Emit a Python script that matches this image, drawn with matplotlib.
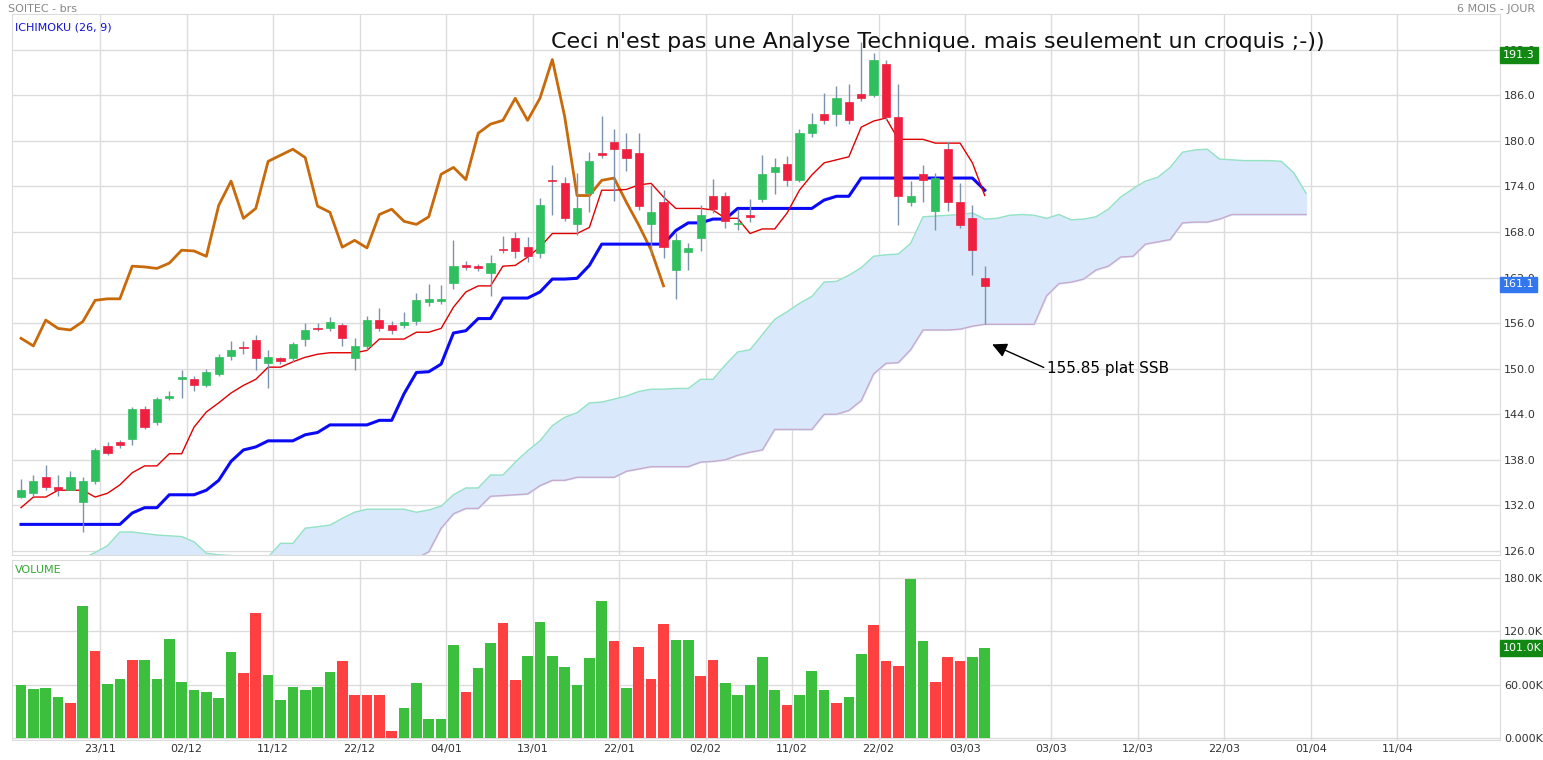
import matplotlib
matplotlib.use("Agg")
import matplotlib.pyplot as plt
from matplotlib.patches import Rectangle

# ---- data (index = trading day) ----
opens = [133.1, 133.6, 135.7, 134.4, 134.0, 132.4, 135.2, 139.8, 140.3, 140.7,
         144.7, 143.0, 146.1, 148.6, 148.6, 147.8, 149.3, 151.7, 152.9, 153.8,
         150.8, 151.4, 151.4, 153.9, 155.3, 155.3, 155.7, 151.4, 153.0, 156.4,
         155.8, 155.7, 156.3, 158.8, 158.9, 161.3, 163.6, 163.5, 162.6, 165.8,
         167.2, 166.0, 165.2, 174.9, 174.5, 169.0, 173.1, 178.4, 179.8, 178.9,
         178.4, 169.0, 171.9, 163.0, 165.3, 167.2, 172.7, 172.7, 169.0, 170.3,
         172.4, 175.9, 176.9, 174.9, 181.0, 183.5, 183.5, 185.1, 186.2, 186.0,
         190.1, 183.1, 172.0, 175.6, 170.7, 178.9, 171.9, 169.8, 161.9]
closes = [134.0, 135.2, 134.4, 134.0, 135.8, 135.2, 139.3, 138.9, 140.0, 144.7,
          142.3, 146.0, 146.4, 148.9, 147.8, 149.6, 151.5, 152.4, 152.7, 151.4,
          151.6, 151.0, 153.2, 155.1, 155.2, 156.2, 154.0, 153.0, 156.4, 155.3,
          155.1, 156.2, 159.0, 159.2, 159.2, 163.5, 163.4, 163.2, 163.9, 165.6,
          165.5, 164.8, 171.5, 174.7, 169.8, 171.1, 177.3, 178.1, 178.9, 177.8,
          171.4, 170.6, 166.0, 166.9, 165.9, 170.3, 171.0, 169.4, 169.0, 170.0,
          175.6, 176.5, 174.9, 181.0, 182.2, 182.7, 185.6, 182.7, 185.6, 190.7,
          183.2, 172.8, 172.8, 174.8, 175.1, 171.9, 168.9, 165.6, 160.9]
highs = [135.5, 136.0, 137.3, 136.0, 136.5, 135.8, 139.6, 140.3, 140.6, 145.0,
         145.1, 146.3, 147.1, 149.8, 149.0, 150.0, 152.0, 153.7, 153.6, 154.5,
         152.4, 151.6, 153.5, 156.0, 156.0, 156.8, 156.0, 154.0, 157.0, 158.0,
         156.3, 157.4, 160.0, 161.1, 161.0, 167.0, 164.2, 163.8, 165.0, 167.5,
         168.0, 167.4, 172.5, 176.8, 175.2, 175.8, 178.5, 183.3, 181.5, 181.0,
         181.0, 174.2, 173.5, 167.8, 166.5, 171.5, 175.0, 173.2, 171.0, 172.3,
         178.2, 177.8, 178.0, 181.6, 183.6, 186.3, 187.2, 187.5, 193.0, 191.5,
         190.6, 187.5, 174.7, 176.8, 175.8, 179.9, 174.5, 171.5, 163.5]
lows = [133.0, 133.3, 134.0, 133.2, 134.0, 128.5, 134.8, 138.6, 139.5, 140.0,
        142.0, 142.6, 145.9, 146.1, 147.1, 147.6, 149.0, 151.2, 152.0, 149.8,
        147.4, 150.6, 150.9, 153.0, 154.9, 154.9, 153.0, 149.8, 152.5, 155.0,
        154.6, 155.4, 155.8, 158.3, 158.5, 160.5, 163.0, 162.8, 159.6, 165.2,
        164.6, 164.0, 164.6, 170.2, 169.4, 167.6, 170.6, 177.7, 172.1, 176.0,
        170.9, 165.0, 164.6, 159.2, 163.0, 165.5, 170.5, 168.5, 168.2, 169.3,
        171.9, 173.0, 174.1, 174.6, 180.5, 182.2, 182.0, 182.2, 185.2, 185.8,
        182.8, 168.9, 171.4, 172.0, 168.2, 170.8, 168.5, 162.4, 155.85]

tenkan = [131.7, 133.1, 133.1, 134.0, 134.0, 134.0, 133.1, 133.6, 134.7, 136.3,
          137.2, 137.2, 138.8, 138.8, 142.3, 144.3, 145.5, 146.8, 147.8, 148.6,
          150.2, 150.2, 150.9, 151.5, 151.9, 152.1, 152.1, 152.1, 152.4, 153.9,
          153.9, 153.9, 154.8, 154.8, 155.3, 158.1, 160.1, 160.9, 160.9, 163.5,
          163.6, 164.7, 166.0, 167.8, 167.8, 167.8, 168.6, 173.5, 173.5, 173.6,
          174.2, 174.4, 172.6, 171.1, 171.1, 171.1, 170.9, 169.8, 169.8, 167.8,
          168.4, 168.4, 170.5, 173.5, 175.5, 177.1, 177.5, 177.9, 181.8, 182.6,
          183.0, 180.2, 180.2, 180.2, 179.7, 179.7, 179.7, 177.1, 172.8]
kijun = [129.5, 129.5, 129.5, 129.5, 129.5, 129.5, 129.5, 129.5, 129.5, 131.0,
         131.7, 131.7, 133.4, 133.4, 133.4, 134.0, 135.3, 137.8, 139.3, 139.7,
         140.5, 140.5, 140.5, 141.3, 141.6, 142.6, 142.6, 142.6, 142.6, 143.2,
         143.2, 146.7, 149.5, 149.6, 150.6, 154.7, 155.0, 156.6, 156.6, 159.3,
         159.3, 159.3, 160.1, 161.8, 161.8, 161.9, 163.6, 166.4, 166.4, 166.4,
         166.4, 166.4, 166.4, 168.2, 169.2, 169.2, 169.7, 169.7, 171.1, 171.1,
         171.1, 171.1, 171.1, 171.1, 171.1, 172.2, 172.7, 172.7, 175.1, 175.1,
         175.1, 175.1, 175.1, 175.1, 175.1, 175.1, 175.1, 175.1, 173.5]
span_a = [122.5, 123.0, 123.5, 124.0, 124.5, 125.0, 125.8, 126.7, 128.5, 128.5,
          128.3, 128.1, 128.0, 127.9, 127.2, 125.7, 125.5, 125.4, 125.3, 125.2,
          125.2, 127.0, 127.0, 129.0, 129.2, 129.4, 130.3, 131.1, 131.5, 131.5,
          131.5, 131.5, 131.1, 131.4, 131.9, 133.4, 134.3, 134.3, 136.0, 136.0,
          137.7, 139.2, 140.5, 142.5, 143.6, 144.2, 145.5, 145.6, 146.0, 146.4,
          147.0, 147.3, 147.3, 147.4, 147.4, 148.6, 148.6, 150.5, 152.2, 152.5,
          154.5, 156.5, 157.5, 158.6, 159.5, 161.4, 161.5, 162.3, 163.3, 164.8,
          165.0, 165.1, 166.5, 170.0, 170.1, 170.2, 170.3, 170.5, 169.7, 169.8,
          170.2, 170.3, 170.2, 169.8, 170.3, 169.6, 169.7, 170.0, 171.0, 172.6,
          173.7, 174.7, 175.2, 176.5, 178.5, 178.8, 178.9, 177.6, 177.5, 177.4,
          177.4, 177.4, 177.3, 175.8, 173.1]
span_b = [118.0, 118.0, 118.0, 118.0, 118.0, 118.0, 118.5, 118.5, 119.0, 119.0,
          119.0, 119.0, 119.5, 119.5, 120.0, 120.0, 120.0, 120.5, 121.0, 121.0,
          121.5, 122.0, 122.0, 122.5, 123.0, 123.0, 123.5, 124.0, 124.0, 124.5,
          124.5, 124.8, 125.0, 125.9, 129.0, 130.9, 131.6, 131.6, 133.2, 133.3,
          133.4, 133.5, 134.6, 135.3, 135.3, 135.7, 135.7, 135.7, 135.7, 136.5,
          136.8, 137.1, 137.1, 137.1, 137.1, 137.7, 137.8, 138.0, 138.6, 139.0,
          139.3, 142.0, 142.0, 142.0, 142.0, 144.0, 144.0, 144.5, 145.8, 149.3,
          150.7, 150.8, 152.5, 155.1, 155.1, 155.1, 155.2, 155.6, 155.85, 155.85,
          155.85, 155.85, 155.85, 159.6, 161.2, 161.4, 161.8, 163.0, 163.5, 164.7,
          164.8, 166.4, 166.7, 167.0, 169.2, 169.3, 169.3, 169.7, 170.3, 170.3,
          170.3, 170.3, 170.3, 170.3, 170.3]

volumes = [60, 55, 56, 46, 40, 148, 98, 61, 67, 88, 88, 67, 111, 63, 54, 52, 45, 97,
           73, 140, 71, 43, 58, 54, 58, 74, 87, 48, 49, 48, 8, 34, 62, 22, 22, 105,
           52, 79, 107, 129, 65, 92, 130, 92, 80, 60, 90, 154, 109, 56, 102, 67,
           128, 110, 110, 70, 88, 62, 48, 60, 91, 54, 37, 49, 75, 54, 40, 46, 94,
           127, 87, 81, 179, 109, 63, 91, 87, 91, 101]
vol_dir = "ggggrgrggrggggggggrrggggggrrrrrgggggrggrrgggggggrgrrrggrrgggggrgggrggrrrggrrr"

date_labels = ["23/11", "02/12", "11/12", "22/12", "04/01", "13/01", "22/01", "02/02",
               "11/02", "22/02", "03/03", "03/03", "12/03", "22/03", "01/04", "11/04"]
price_ticks = [126, 132, 138, 144, 150, 156, 162, 168, 174, 180, 186, 192]
vol_ticks = [0, 60, 120, 180]
vol_tick_labels = ["0.000K", "60.00K", "120.0K", "180.0K"]

GREEN = "#2fbf5f"
RED = "#ee1f3f"
WICK = "#7d93ad"
GRID = "#dcdcdc"

fig = plt.figure(figsize=(15.43, 7.6), dpi=100)
W, H = 1543, 760
ax = fig.add_axes([12 / W, (H - 555) / H, 1488 / W, 541 / H])
axv = fig.add_axes([12 / W, (H - 740) / H, 1488 / W, 180 / H])

n = len(closes)
xs = list(range(n))
date_pos = [6.4 + 7 * k for k in range(len(date_labels))]
xlim = (-0.73, 119.7)

# cloud
cx = list(range(len(span_a)))
ax.fill_between(cx, span_a, span_b, color="#d9e9fb", zorder=1)
ax.plot(cx, span_a, color="#93e3c3", lw=1, zorder=2)
ax.plot(cx, span_b, color="#c9a9cc", lw=1, zorder=2)

# chikou = closes shifted back 26 days
ax.plot(xs[:n - 26], closes[26:], color="#c8690a", lw=2, zorder=3)
ax.plot(xs, kijun, color="#0a0af5", lw=2.2, zorder=3)
ax.plot(xs, tenkan, color="#e00000", lw=1, zorder=3)

for i in xs:
    o, c = opens[i], closes[i]
    col = GREEN if c >= o else RED
    ax.vlines(i, lows[i], highs[i], color=WICK, lw=1, zorder=4)
    h = max(abs(c - o), 0.15)
    ax.add_patch(Rectangle((i - 0.33, min(o, c)), 0.66, h, facecolor=col,
                           edgecolor=col, lw=0.5, zorder=5))

ax.set_xlim(*xlim)
ax.set_ylim(125.47, 196.7)
ax.set_yticks(price_ticks)
ax.set_yticklabels([f"{t:.1f}" for t in price_ticks])
ax.set_xticks(date_pos)
ax.set_xticklabels([])
ax.grid(True, color=GRID, lw=1)
ax.set_axisbelow(True)

# volume
vcol = ["#3cbf3c" if d == "g" else "#ff4040" for d in vol_dir]
axv.bar(xs, volumes, width=0.86, color=vcol, zorder=3)
axv.set_xlim(*xlim)
axv.set_ylim(-2, 200)
axv.set_yticks(vol_ticks)
axv.set_yticklabels(vol_tick_labels)
axv.set_xticks(date_pos)
axv.set_xticklabels(date_labels)
axv.grid(True, color=GRID, lw=1)
axv.set_axisbelow(True)

for a in (ax, axv):
    a.yaxis.tick_right()
    a.tick_params(axis="both", length=0, labelsize=8, colors="#333333", pad=3)
    for s in a.spines.values():
        s.set_color(GRID)

# texts
fig.text(8 / W, 1 - 9 / H, "SOITEC - brs", fontsize=8, color="#888888", va="center")
fig.text(1 - 8 / W, 1 - 9 / H, "6 MOIS - JOUR", fontsize=8, color="#888888",
         va="center", ha="right")
ax.text(0.002, 0.985, "ICHIMOKU (26, 9)", transform=ax.transAxes, fontsize=8,
        color="#1010d0", va="top")
axv.text(0.002, 0.97, "VOLUME", transform=axv.transAxes, fontsize=8,
         color="#33aa33", va="top")
fig.text(551 / W, 1 - 42 / H, "Ceci n'est pas une Analyse Technique. mais seulement un croquis ;-))",
         fontsize=16, color="#111111", va="center")
ax.annotate("155.85 plat SSB", xy=(78.6, 153.2), xytext=(83.0, 150.0),
            fontsize=11, va="center",
            arrowprops=dict(arrowstyle="-|>", color="black", lw=1,
                            mutation_scale=22, shrinkA=0, shrinkB=0,
                            relpos=(0.0, 0.5)))

# value boxes on the right
def tag(a, y, txt, col):
    a.text(1.002, y, txt, transform=a.get_yaxis_transform(), fontsize=8,
           color="white", va="center", ha="left",
           bbox=dict(boxstyle="square,pad=0.25", fc=col, ec=col))

tag(ax, 191.3, "191.3", "#118811")
tag(ax, 161.1, "161.1", "#3377ee")
tag(axv, 101, "101.0K", "#118811")

fig.savefig("out.png", dpi=100)
